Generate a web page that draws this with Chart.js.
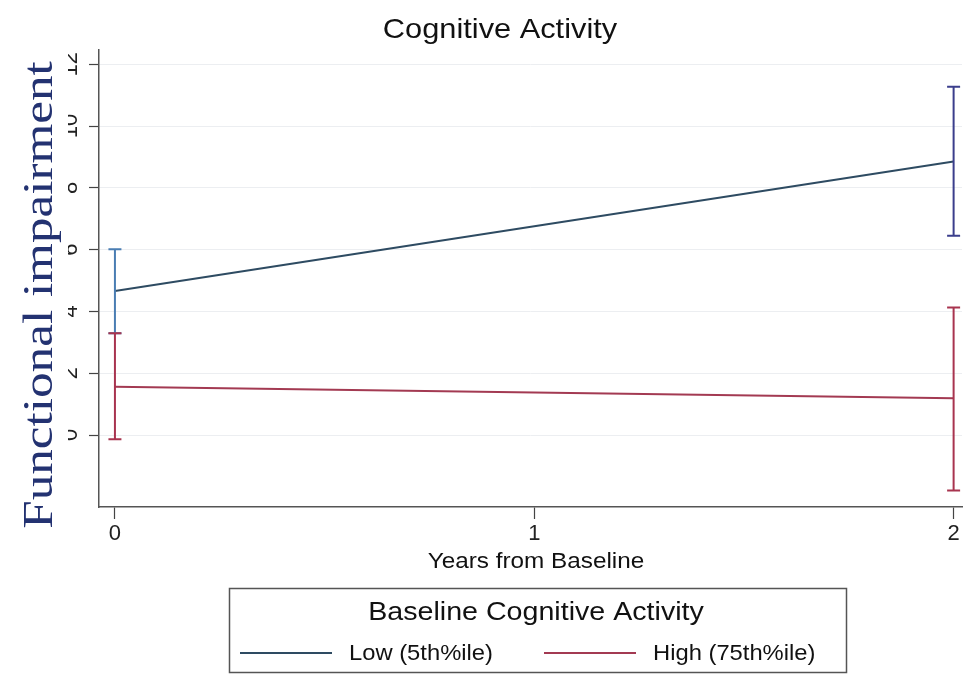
<!DOCTYPE html>
<html>
<head>
<meta charset="utf-8">
<script src="https://cdn.jsdelivr.net/npm/chart.js@4"></script>
<style>
  html, body { margin: 0; padding: 0; background: #ffffff; }
  #wrap { width: 968px; height: 674px; }
</style>
</head>
<body>
<div id="wrap"><canvas id="c" width="968" height="674"></canvas></div>
<script>
// Predicted functional impairment by years from baseline, with 95% CIs
const years = [0, 2];
const lowMean  = [4.66, 8.85];
const lowUpper = [6.01, 11.27];
const lowLower = [3.29, 6.45];
const highMean  = [1.56, 1.19];
const highUpper = [3.29, 4.13];
const highLower = [-0.14, -1.80];
const xTicks = [0, 1, 2];
const yTicks = [0, 2, 4, 6, 8, 10, 12];
const seriesNames = ['Low (5th%ile)', 'High (75th%ile)'];
const chartTitle = 'Cognitive Activity';
const xTitle = 'Years from Baseline';
const yTitle = 'Functional impairment';
const legendTitle = 'Baseline Cognitive Activity';

const SANS = '"Liberation Sans", Arial, Helvetica, sans-serif';
const SERIF = '"Liberation Serif", "Times New Roman", serif';
const lowColor = '#2e4b62';
const highColor = '#a33a52';
const lowBarColors = ['#4a7db3', '#3b3e8c'];
const highBarColors = ['#a8344f', '#a8344f'];
const WIDEN = 1.08; // horizontal widening of the sans-serif labels

const toPoints = (ys) => years.map((x, i) => ({ x: x, y: ys[i] }));

// Text drawn slightly widened around its anchor point
function wideText(ctx, text, x, y, align) {
  ctx.save();
  ctx.translate(x, y);
  ctx.scale(WIDEN, 1);
  ctx.textAlign = align;
  ctx.fillText(text, 0, 0);
  ctx.restore();
}

// Vertical confidence bars with end caps
const ciBars = {
  id: 'ciBars',
  afterDatasetsDraw(chart) {
    const { ctx, scales: { x, y } } = chart;
    const sets = [
      { lo: lowLower, hi: lowUpper, colors: lowBarColors },
      { lo: highLower, hi: highUpper, colors: highBarColors }
    ];
    ctx.save();
    ctx.lineWidth = 2;
    sets.forEach(s => {
      years.forEach((yr, i) => {
        const px = x.getPixelForValue(yr);
        const yLo = y.getPixelForValue(s.lo[i]);
        const yHi = y.getPixelForValue(s.hi[i]);
        ctx.strokeStyle = s.colors[i];
        ctx.beginPath();
        ctx.moveTo(px, yLo); ctx.lineTo(px, yHi);
        ctx.moveTo(px - 6.5, yLo); ctx.lineTo(px + 6.5, yLo);
        ctx.moveTo(px - 6.5, yHi); ctx.lineTo(px + 6.5, yHi);
        ctx.stroke();
      });
    });
    ctx.restore();
  }
};

// Titles, vertical tick labels and the legend box
const decorations = {
  id: 'decorations',
  afterDraw(chart) {
    const { ctx, scales: { y } } = chart;
    ctx.save();

    // vertical y tick labels, partly hidden behind the axis title
    ctx.save();
    ctx.beginPath();
    ctx.rect(68, 40, 22, 480);
    ctx.clip();
    ctx.fillStyle = '#222';
    ctx.font = '22px ' + SANS;
    ctx.textAlign = 'center';
    ctx.textBaseline = 'alphabetic';
    yTicks.forEach(v => {
      const py = y.getPixelForValue(v);
      ctx.save();
      ctx.translate(77, py);
      ctx.rotate(-Math.PI / 2);
      ctx.fillText(String(v), 0, 0);
      ctx.restore();
    });
    ctx.restore();

    // y axis title
    ctx.save();
    ctx.fillStyle = '#233271';
    ctx.font = '43px ' + SERIF;
    ctx.textAlign = 'center';
    ctx.textBaseline = 'alphabetic';
    ctx.translate(52, 295);
    ctx.rotate(-Math.PI / 2);
    ctx.scale(1.19, 1);
    ctx.fillText(yTitle, 0, 0);
    ctx.restore();

    // chart title
    ctx.fillStyle = '#111';
    ctx.textBaseline = 'middle';
    ctx.font = '28.5px ' + SANS;
    wideText(ctx, chartTitle, 500, 30, 'center');

    // x axis title
    ctx.font = '22.5px ' + SANS;
    wideText(ctx, xTitle, 536, 562, 'center');

    // legend
    ctx.strokeStyle = '#555';
    ctx.lineWidth = 1.5;
    ctx.strokeRect(229.5, 588.5, 617, 84);
    ctx.font = '26.5px ' + SANS;
    ctx.fillStyle = '#111';
    wideText(ctx, legendTitle, 536, 613, 'center');

    ctx.lineWidth = 2;
    ctx.strokeStyle = lowColor;
    ctx.beginPath(); ctx.moveTo(240, 653); ctx.lineTo(332, 653); ctx.stroke();
    ctx.strokeStyle = highColor;
    ctx.beginPath(); ctx.moveTo(544, 653); ctx.lineTo(636, 653); ctx.stroke();
    ctx.font = '22px ' + SANS;
    wideText(ctx, seriesNames[0], 349, 654, 'left');
    wideText(ctx, seriesNames[1], 653, 654, 'left');

    ctx.restore();
  }
};

new Chart(document.getElementById('c'), {
  type: 'line',
  data: {
    datasets: [
      { label: seriesNames[0], data: toPoints(lowMean), borderColor: lowColor, borderWidth: 2, pointRadius: 0, tension: 0 },
      { label: seriesNames[1], data: toPoints(highMean), borderColor: highColor, borderWidth: 2, pointRadius: 0, tension: 0 }
    ]
  },
  options: {
    responsive: false,
    animation: false,
    devicePixelRatio: 1,
    layout: { padding: { left: 0, top: 50, right: 6, bottom: 0 } },
    plugins: { legend: { display: false }, tooltip: { enabled: false }, title: { display: false } },
    scales: {
      x: {
        type: 'linear',
        min: -0.038,
        max: 2.02,
        afterBuildTicks: s => { s.ticks = xTicks.map(v => ({ value: v })); },
        afterFit: s => { s.height = 167; },
        ticks: { color: '#222', font: { family: SANS, size: 22 }, padding: 2, maxRotation: 0 },
        grid: { drawOnChartArea: false, drawTicks: true, tickLength: 12, tickColor: '#444', tickWidth: 1.2 },
        border: { color: '#555', width: 1.5 }
      },
      y: {
        type: 'linear',
        min: -2.33,
        max: 12.46,
        afterBuildTicks: s => { s.ticks = yTicks.map(v => ({ value: v })); },
        afterFit: s => { s.width = 99; },
        ticks: { display: false },
        grid: { color: '#eceef1', lineWidth: 1, drawTicks: true, tickLength: 10, tickColor: '#444', tickWidth: 1.2 },
        border: { color: '#555', width: 1.5 }
      }
    }
  },
  plugins: [ciBars, decorations]
});
</script>
</body>
</html>
